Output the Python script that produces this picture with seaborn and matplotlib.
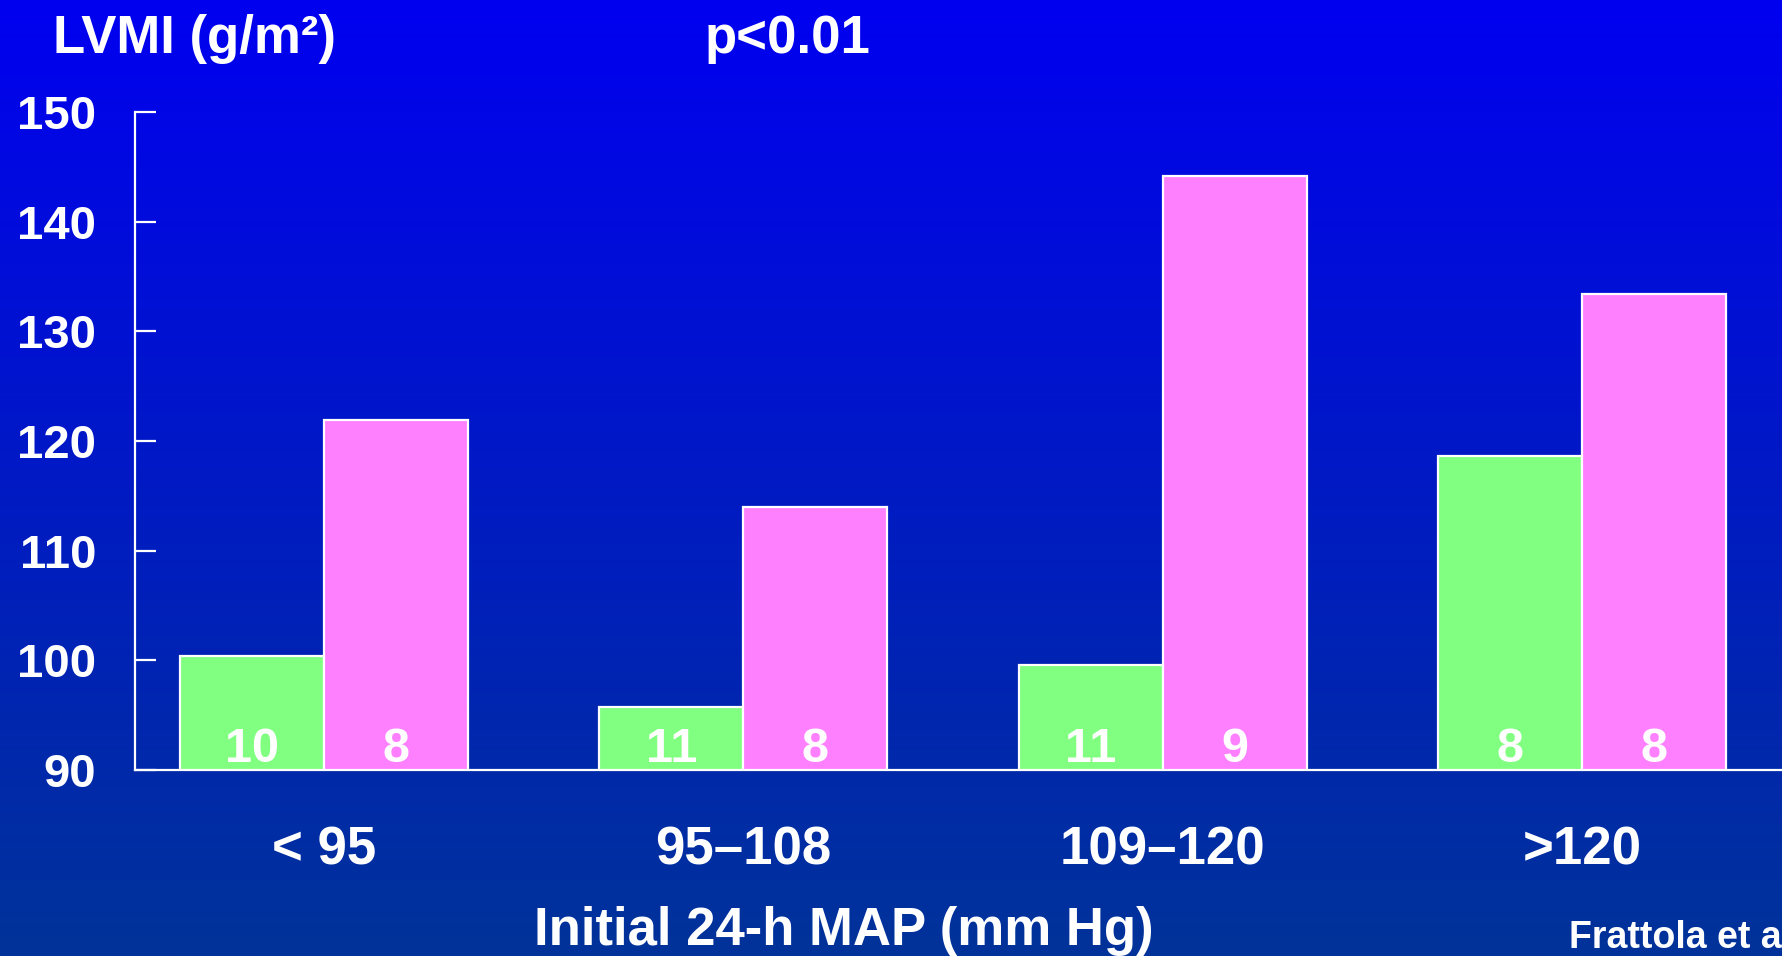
import numpy as np
import pandas as pd
import matplotlib
matplotlib.use("Agg")
import matplotlib.pyplot as plt
import seaborn as sns

# ---- data ----
categories = ["< 95", "95–108", "109–120", ">120"]
groups = ["Low variability", "High variability"]
lvmi_low = [100.4, 95.7, 99.6, 118.6]
lvmi_high = [121.9, 114.0, 144.2, 133.4]
n_low = [10, 11, 11, 8]
n_high = [8, 8, 9, 8]
yticks = [90, 100, 110, 120, 130, 140, 150]
colors = ["#80FF80", "#FF80FF"]

sns.set_theme(style="white")
plt.rcParams['font.family'] = ['Liberation Sans', 'DejaVu Sans']
plt.rcParams['font.weight'] = 'bold'

df = pd.DataFrame({
    "MAP": categories * 2,
    "group": [groups[0]] * len(categories) + [groups[1]] * len(categories),
    "LVMI": lvmi_low + lvmi_high,
})

fig = plt.figure(figsize=(17.82, 9.56), dpi=100)

# gradient background
bg = fig.add_axes([0, 0, 1, 1], zorder=-10)
top = np.array([0, 0, 240]) / 255
bottom = np.array([0, 51, 153]) / 255
t = np.linspace(0, 1, 512)[:, None]
grad = top * (1 - t) + bottom * t
bg.imshow(grad[:, None, :], aspect='auto', extent=[0, 1, 0, 1])
bg.set_axis_off()

ax = fig.add_axes([135 / 1782, 186 / 956, 1 - 135 / 1782, (770 - 112) / 956])
ax.patch.set_alpha(0)

sns.barplot(data=df, x="MAP", y="LVMI", hue="group", palette=colors,
            width=0.687, gap=0, edgecolor="white", linewidth=1.6,
            saturation=1, legend=False, errorbar=None, ax=ax)

for container, ns in zip(ax.containers, [n_low, n_high]):
    for bar, n in zip(container, ns):
        x = bar.get_x() + bar.get_width() / 2
        ax.annotate(str(n), (x, 90), xytext=(0, 6), textcoords='offset points',
                    ha='center', va='baseline', color='white',
                    fontsize=35, fontweight='bold', annotation_clip=False)

ax.set_xlim(-0.45, 3.476)
ax.set_ylim(90, 150)
ax.set_yticks(yticks)
ax.set_xlabel('')
ax.set_ylabel('')
ax.spines[['top', 'right']].set_visible(False)
for s in ['left', 'bottom']:
    ax.spines[s].set_color('white')
    ax.spines[s].set_linewidth(1.6)
ax.tick_params(axis='y', direction='in', length=15, width=1.6, color='white',
               labelcolor='white', labelsize=34, pad=28, left=True)
ax.tick_params(axis='x', length=0, labelcolor='white', labelsize=38, pad=40)
for lbl in ax.get_xticklabels() + ax.get_yticklabels():
    lbl.set_fontweight('bold')

fig.text(53 / 1782, 1 - 53 / 956, "LVMI (g/m²)", color='white', fontsize=38,
         fontweight='bold', ha='left', va='baseline')
fig.text(788 / 1782, 1 - 53 / 956, "p<0.01", color='white', fontsize=38,
         fontweight='bold', ha='center', va='baseline')
fig.text(844 / 1782, 11 / 956, "Initial 24-h MAP (mm Hg)", color='white',
         fontsize=38, fontweight='bold', ha='center', va='baseline')
fig.text(1569 / 1782, 8 / 956, "Frattola et al.", color='white', fontsize=27,
         fontweight='bold', ha='left', va='baseline')

fig.savefig('out.png', dpi=100)
